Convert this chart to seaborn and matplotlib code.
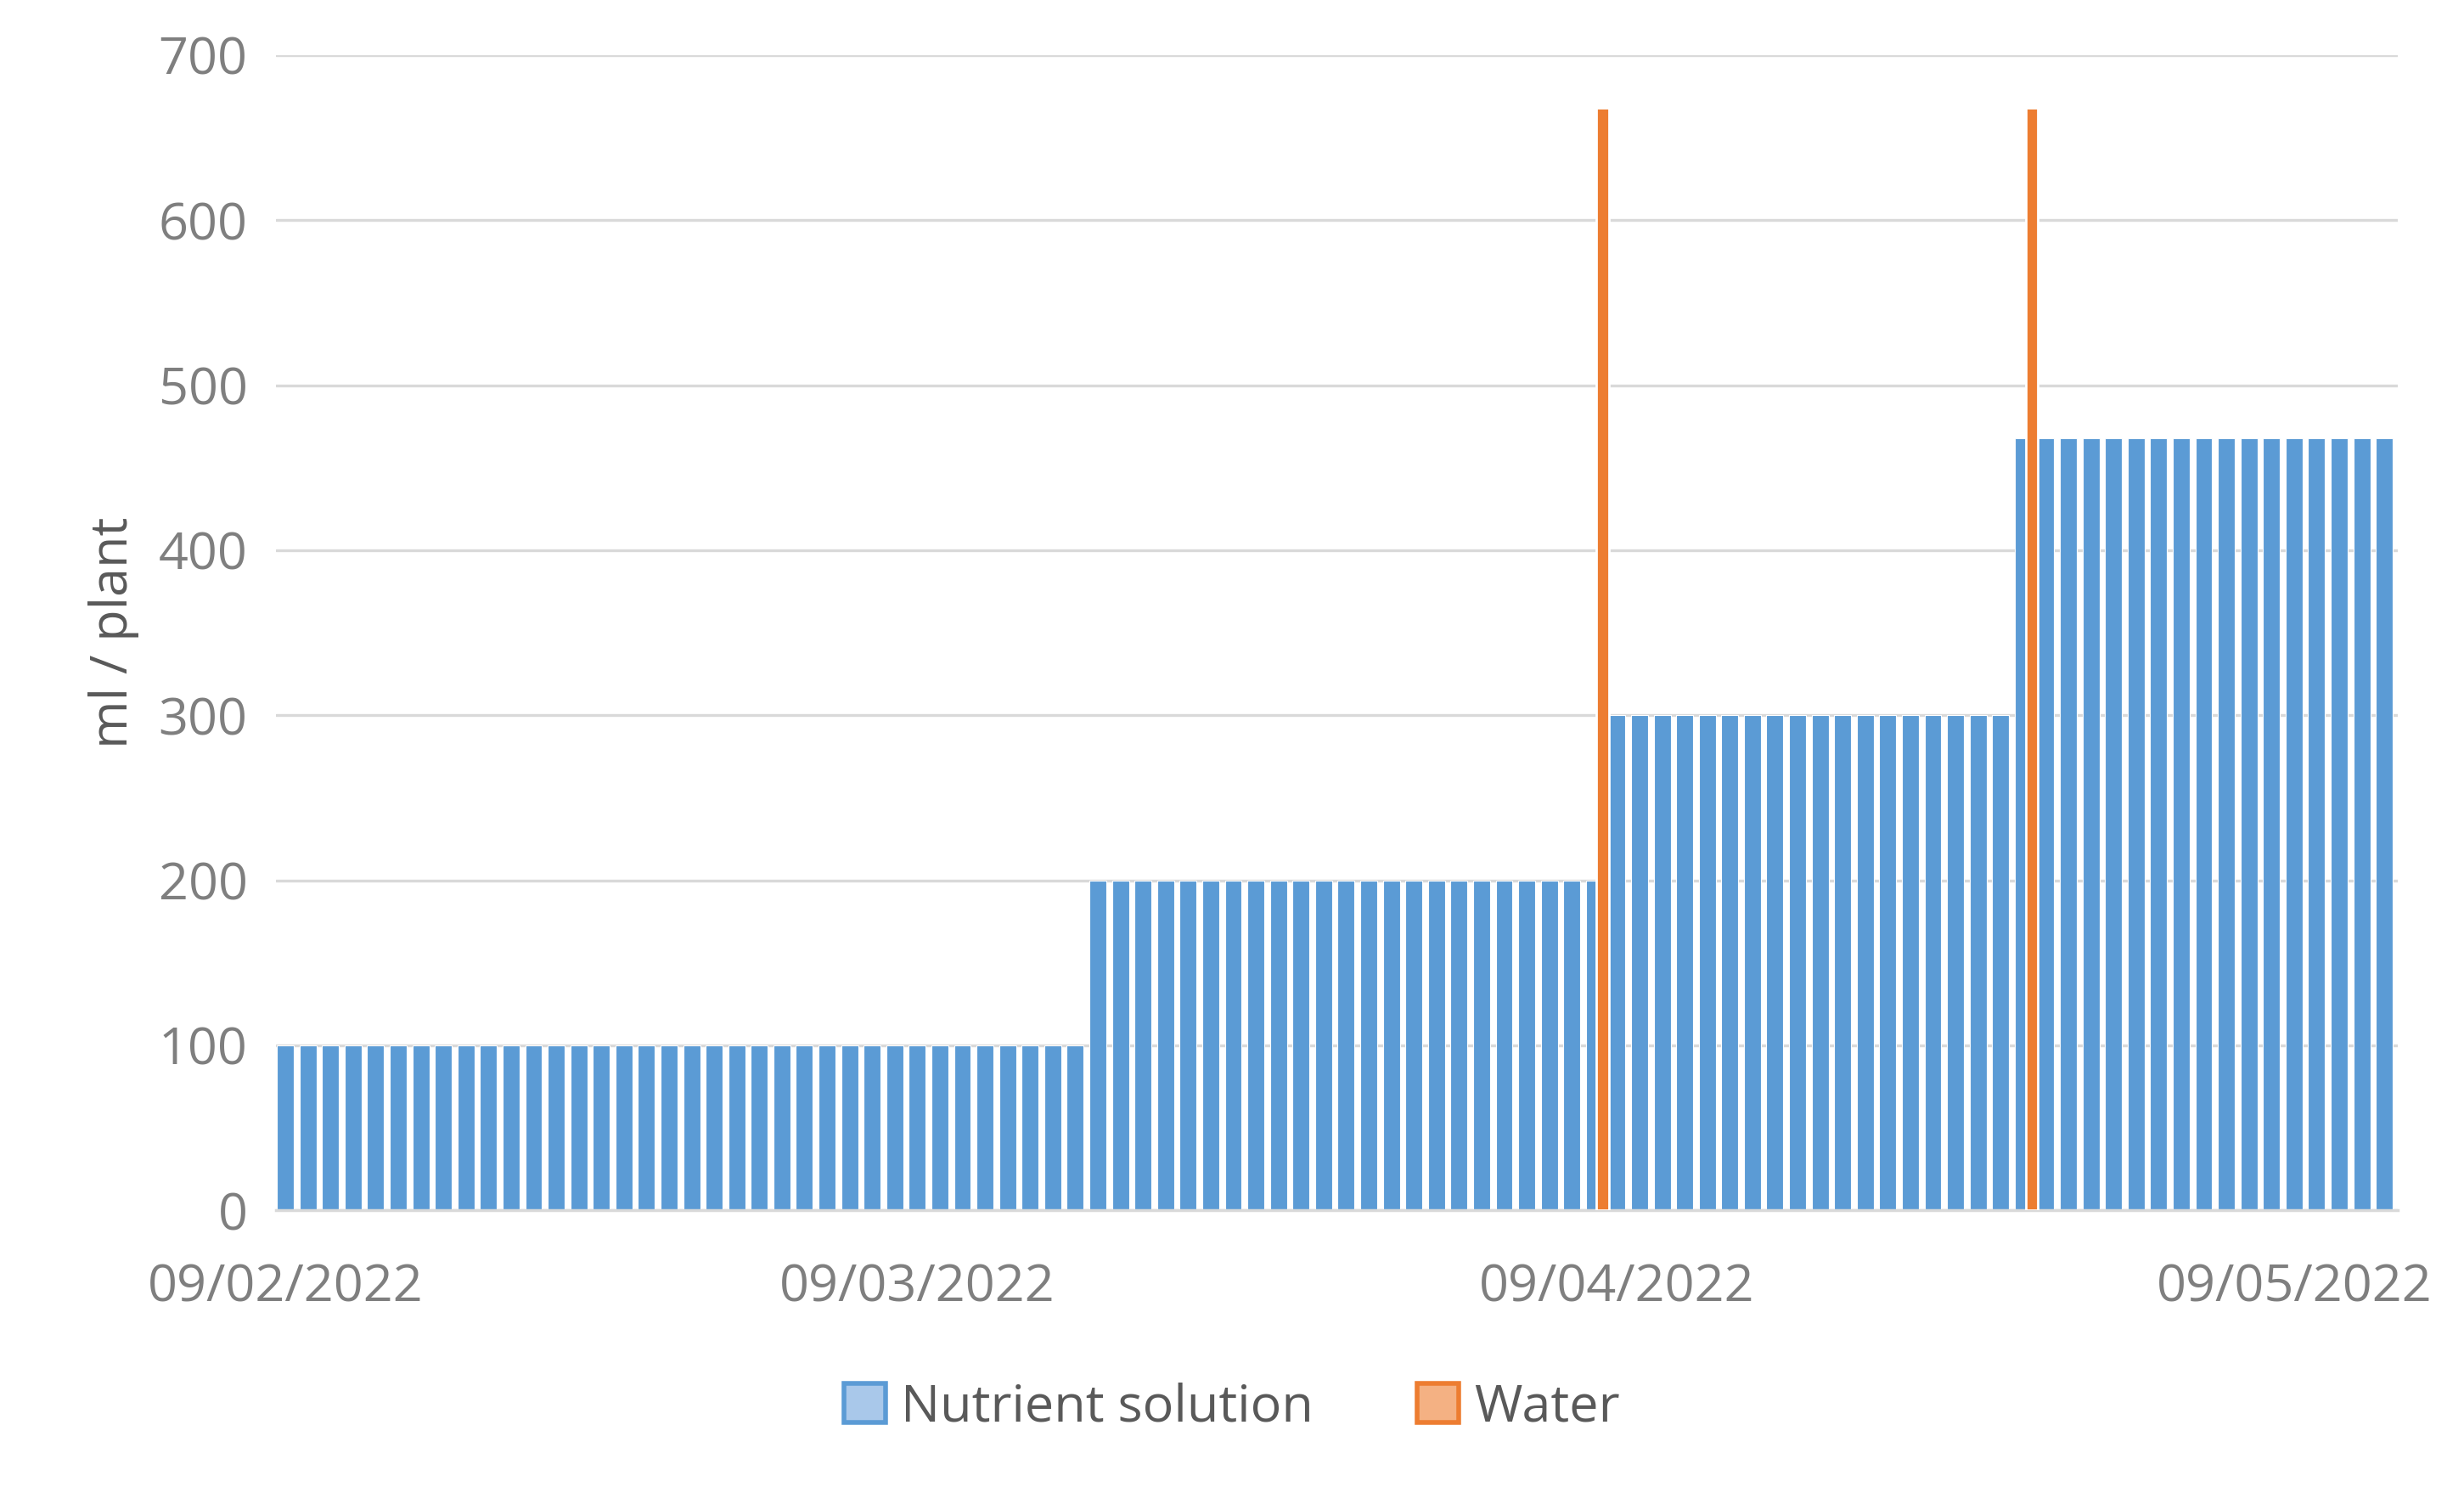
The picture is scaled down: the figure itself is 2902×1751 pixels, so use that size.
import pandas as pd
import numpy as np
import matplotlib.pyplot as plt
import matplotlib.dates as mdates
import seaborn as sns
from matplotlib.patches import Patch

sns.set_theme(style="white")
plt.rcParams["font.family"] = ["Open Sans", "DejaVu Sans"]

COLOR_NUTRIENT = "#5B9BD5"
COLOR_WATER = "#ED7D31"
TEXT_GREY = "#7f7f7f"

# daily nutrient solution doses from 09/02/2022 (ml / plant)
start_date = "2022-02-09"
nutrient = [100] * 36 + [200] * 23 + [300] * 18 + [468] * 17
# water applications
water_dates = ["2022-04-08", "2022-04-27"]
water_values = [668, 668]

days = pd.date_range(start_date, periods=len(nutrient), freq="D")
wdays = pd.to_datetime(water_dates)

fig = plt.figure(figsize=(14.51, 8.755), dpi=200)
ax = fig.add_axes([0.112, 0.186, 0.861, 0.777])

ax.bar(days, nutrient, width=0.75, color=COLOR_NUTRIENT, edgecolor="white",
       linewidth=0.4, zorder=2)
ax.bar(wdays + pd.Timedelta(hours=9), water_values, width=0.55,
       color=COLOR_WATER, zorder=3)

ax.set_ylim(0, 700)
ax.set_yticks(range(0, 701, 100))
ax.set_xlim(pd.Timestamp("2022-02-08 14:00"), pd.Timestamp("2022-05-13 14:00"))
ax.set_xticks(pd.to_datetime(["2022-02-09", "2022-03-09", "2022-04-09", "2022-05-09"]))
ax.xaxis.set_major_formatter(mdates.DateFormatter("%d/%m/%Y"))

ax.yaxis.grid(True, color="#d9d9d9", linewidth=1.2, zorder=0)
ax.xaxis.grid(False)
for s in ["top", "right", "left"]:
    ax.spines[s].set_visible(False)
ax.spines["bottom"].set_color("#d9d9d9")
ax.tick_params(axis="both", colors=TEXT_GREY, labelsize=22, length=0)
ax.tick_params(axis="x", pad=22)
ax.tick_params(axis="y", pad=12)
ax.set_ylabel("ml / plant", fontsize=22, color="#595959", labelpad=8)

handles = [Patch(facecolor="#a9c8ea", edgecolor=COLOR_NUTRIENT, linewidth=2, label="Nutrient solution"),
           Patch(facecolor="#f4b183", edgecolor=COLOR_WATER, linewidth=2, label="Water")]
fig.legend(handles=handles, loc="lower center", bbox_to_anchor=(0.5, 0.005), ncol=2,
           frameon=False, fontsize=22, labelcolor="#595959", handlelength=0.8,
           handleheight=0.8, handletextpad=0.3, columnspacing=2)

fig.savefig("out.png", dpi=200)
